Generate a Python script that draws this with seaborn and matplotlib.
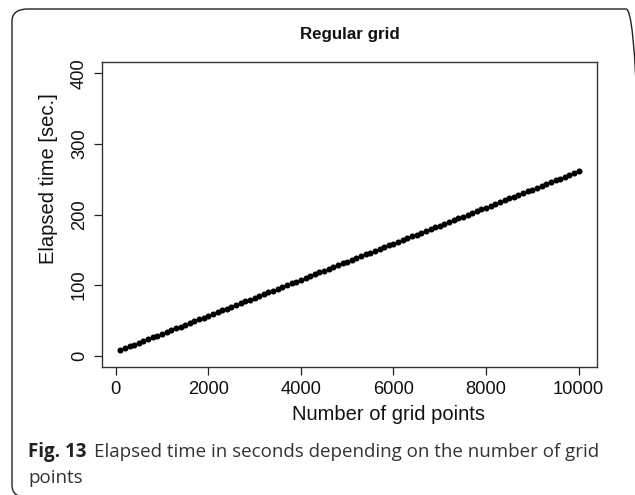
import matplotlib
matplotlib.use("Agg")
import matplotlib.pyplot as plt
import seaborn as sns
import pandas as pd
from matplotlib.patches import FancyBboxPatch

grid_points = [100, 200, 300, 400, 500, 600, 700, 800, 900, 1000,
               1100, 1200, 1300, 1400, 1500, 1600, 1700, 1800, 1900, 2000,
               2100, 2200, 2300, 2400, 2500, 2600, 2700, 2800, 2900, 3000,
               3100, 3200, 3300, 3400, 3500, 3600, 3700, 3800, 3900, 4000,
               4100, 4200, 4300, 4400, 4500, 4600, 4700, 4800, 4900, 5000,
               5100, 5200, 5300, 5400, 5500, 5600, 5700, 5800, 5900, 6000,
               6100, 6200, 6300, 6400, 6500, 6600, 6700, 6800, 6900, 7000,
               7100, 7200, 7300, 7400, 7500, 7600, 7700, 7800, 7900, 8000,
               8100, 8200, 8300, 8400, 8500, 8600, 8700, 8800, 8900, 9000,
               9100, 9200, 9300, 9400, 9500, 9600, 9700, 9800, 9900, 10000]
elapsed = [8.0, 10.6, 13.1, 15.7, 18.2, 20.8, 23.3, 25.9, 28.4, 31.0,
           33.6, 36.1, 38.7, 41.2, 43.8, 46.3, 48.9, 51.4, 54.0, 56.6,
           59.1, 61.7, 64.2, 66.8, 69.3, 71.9, 74.4, 77.0, 79.6, 82.1,
           84.7, 87.2, 89.8, 92.3, 94.9, 97.4, 100.0, 102.6, 105.1, 107.7,
           110.2, 112.8, 115.3, 117.9, 120.4, 123.0, 125.6, 128.1, 130.7, 133.2,
           135.8, 138.3, 140.9, 143.4, 146.0, 148.6, 151.1, 153.7, 156.2, 158.8,
           161.3, 163.9, 166.4, 169.0, 171.6, 174.1, 176.7, 179.2, 181.8, 184.3,
           186.9, 189.4, 192.0, 194.6, 197.1, 199.7, 202.2, 204.8, 207.3, 209.9,
           212.4, 215.0, 217.6, 220.1, 222.7, 225.2, 227.8, 230.3, 232.9, 235.4,
           238.0, 240.6, 243.1, 245.7, 248.2, 250.8, 253.3, 255.9, 258.4, 261.0]
x_ticks = [0, 2000, 4000, 6000, 8000, 10000]
y_ticks = [0, 100, 200, 300, 400]

sns.set_theme(style="white")
plt.rcParams['font.family'] = ['Liberation Sans', 'DejaVu Sans']

W, H = 635, 495
fig = plt.figure(figsize=(W / 100, H / 100), dpi=100)
ax = fig.add_axes([102 / W, 1 - 367 / H, (597 - 102) / W, (367 - 62) / H])

df = pd.DataFrame({"n": grid_points, "t": elapsed})
sns.scatterplot(data=df, x="n", y="t", ax=ax, color="black", s=19,
                edgecolor="black", linewidth=0, legend=False)

ax.set_xlim(-296, 10396)
ax.set_ylim(-16, 416)
ax.set_xticks(x_ticks)
ax.set_yticks(y_ticks)
ax.set_xticklabels([str(v) for v in x_ticks], fontsize=13.2)
ax.set_yticklabels([str(v) for v in y_ticks], fontsize=13.2, rotation=90, va="center")
ax.tick_params(axis="both", direction="out", length=5.5, width=0.9, color="#222222",
               labelcolor="#111111", pad=4.5, bottom=True, left=True)
for sp in ax.spines.values():
    sp.set_visible(True)
    sp.set_color("#333333")
    sp.set_linewidth(1.0)
ax.set_xlabel("")
ax.set_ylabel("")

fig.text(349.5 / W, 1 - 35 / H, "Regular grid", ha="center", va="center",
         fontsize=12.2, fontweight="bold", color="#111111")
fig.text(388 / W, 1 - 415 / H, "Number of grid points", ha="center", va="center",
         fontsize=14.5, color="#111111")
fig.text(49 / W, 1 - 179 / H, "Elapsed time [sec.]", ha="center", va="center",
         fontsize=14.5, rotation=90, color="#111111")

# caption
cap_y1 = 1 - 452 / H
cap_y2 = 1 - 478 / H
t1 = fig.text(28 / W, cap_y1, "Fig. 13", ha="left", va="center", fontsize=13.5,
              fontweight="bold", color="#231f20", family=["Open Sans", "DejaVu Sans"])
fig.canvas.draw()
bb = t1.get_window_extent()
fig.text((bb.x1 + 8) / W, cap_y1, "Elapsed time in seconds depending on the number of grid",
         ha="left", va="center", fontsize=13.5, color="#333333",
         family=["Open Sans", "DejaVu Sans"])
fig.text(28 / W, cap_y2, "points", ha="left", va="center", fontsize=13.5,
         color="#333333", family=["Open Sans", "DejaVu Sans"])

# rounded border (right and bottom edges fall just outside the image)
box = FancyBboxPatch((12 / W, -2.5 / H), (642 - 12) / W, (H - 9 + 2.5) / H,
                     boxstyle="round,pad=0,rounding_size=0.025",
                     transform=fig.transFigure, fill=False, edgecolor="#222222",
                     linewidth=1.0, clip_on=False)
fig.patches.append(box)

fig.savefig("out.png", dpi=100)
